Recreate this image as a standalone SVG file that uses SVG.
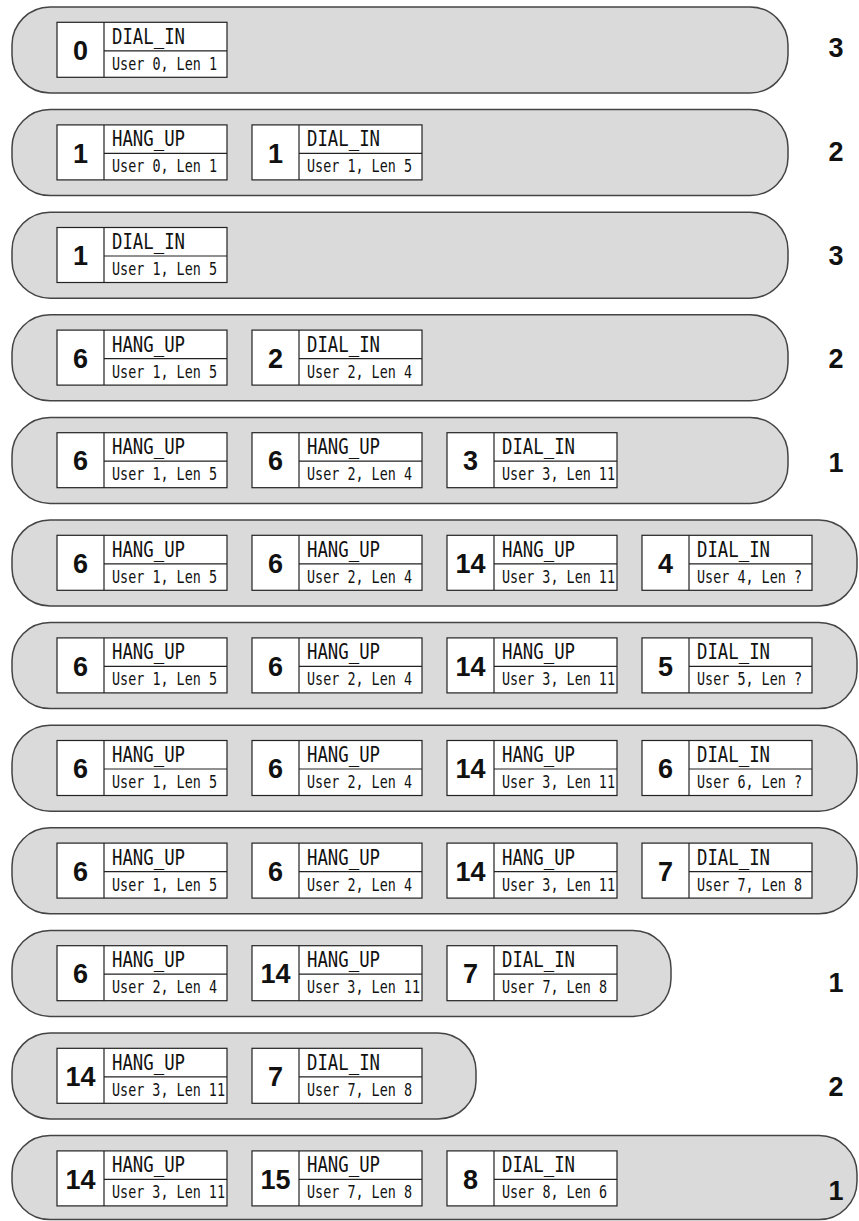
<svg xmlns="http://www.w3.org/2000/svg" width="859" height="1221" viewBox="0 0 859 1221">
<style>
.cap{fill:#dadada;stroke:#444;stroke-width:1.5}
.bx{fill:#fff;stroke:#222;stroke-width:1.2}
.ln{stroke:#222;stroke-width:1.2;fill:none}
.num{font-family:"Liberation Sans",Arial,sans-serif;font-weight:bold;font-size:27px;fill:#111;text-anchor:middle}
.typ{font-family:"DejaVu Sans Mono","Liberation Mono",monospace;font-size:21px;fill:#111}
.usr{font-family:"DejaVu Sans Mono","Liberation Mono",monospace;font-size:18px;fill:#111}
.cnt{font-family:"Liberation Sans",Arial,sans-serif;font-weight:bold;font-size:27px;fill:#111;text-anchor:middle}
</style>
<g id="connectors"/>
<!-- Row 0 -->
<g id="row0">
<rect class="cap" x="12" y="7" width="776" height="86" rx="38"/>
<g id="r0b0" transform="translate(57,22.3)"><rect class="bx" width="170" height="55"/><path class="ln" d="M47 0V55M47 28.5H170"/><text class="num" x="23.5" y="37.7">0</text><text class="typ" x="55" y="21.5" textLength="73" lengthAdjust="spacingAndGlyphs">DIAL_IN</text><text class="usr" x="55" y="47.5" textLength="105" lengthAdjust="spacingAndGlyphs">User 0, Len 1</text></g>
<text class="cnt" x="836" y="56.7">3</text>
</g>
<!-- Row 1 -->
<g id="row1">
<rect class="cap" x="12" y="109.6" width="776" height="86" rx="38"/>
<g id="r1b0" transform="translate(57,124.9)"><rect class="bx" width="170" height="55"/><path class="ln" d="M47 0V55M47 28.5H170"/><text class="num" x="23.5" y="37.7">1</text><text class="typ" x="55" y="21.5" textLength="73" lengthAdjust="spacingAndGlyphs">HANG_UP</text><text class="usr" x="55" y="47.5" textLength="105" lengthAdjust="spacingAndGlyphs">User 0, Len 1</text></g>
<g id="r1b1" transform="translate(252,124.9)"><rect class="bx" width="170" height="55"/><path class="ln" d="M47 0V55M47 28.5H170"/><text class="num" x="23.5" y="37.7">1</text><text class="typ" x="55" y="21.5" textLength="73" lengthAdjust="spacingAndGlyphs">DIAL_IN</text><text class="usr" x="55" y="47.5" textLength="105" lengthAdjust="spacingAndGlyphs">User 1, Len 5</text></g>
<text class="cnt" x="836" y="160.6">2</text>
</g>
<!-- Row 2 -->
<g id="row2">
<rect class="cap" x="12" y="212.2" width="776" height="86" rx="38"/>
<g id="r2b0" transform="translate(57,227.5)"><rect class="bx" width="170" height="55"/><path class="ln" d="M47 0V55M47 28.5H170"/><text class="num" x="23.5" y="37.7">1</text><text class="typ" x="55" y="21.5" textLength="73" lengthAdjust="spacingAndGlyphs">DIAL_IN</text><text class="usr" x="55" y="47.5" textLength="105" lengthAdjust="spacingAndGlyphs">User 1, Len 5</text></g>
<text class="cnt" x="836" y="264.5">3</text>
</g>
<!-- Row 3 -->
<g id="row3">
<rect class="cap" x="12" y="314.8" width="776" height="86" rx="38"/>
<g id="r3b0" transform="translate(57,330.1)"><rect class="bx" width="170" height="55"/><path class="ln" d="M47 0V55M47 28.5H170"/><text class="num" x="23.5" y="37.7">6</text><text class="typ" x="55" y="21.5" textLength="73" lengthAdjust="spacingAndGlyphs">HANG_UP</text><text class="usr" x="55" y="47.5" textLength="105" lengthAdjust="spacingAndGlyphs">User 1, Len 5</text></g>
<g id="r3b1" transform="translate(252,330.1)"><rect class="bx" width="170" height="55"/><path class="ln" d="M47 0V55M47 28.5H170"/><text class="num" x="23.5" y="37.7">2</text><text class="typ" x="55" y="21.5" textLength="73" lengthAdjust="spacingAndGlyphs">DIAL_IN</text><text class="usr" x="55" y="47.5" textLength="105" lengthAdjust="spacingAndGlyphs">User 2, Len 4</text></g>
<text class="cnt" x="836" y="368.4">2</text>
</g>
<!-- Row 4 -->
<g id="row4">
<rect class="cap" x="12" y="417.4" width="776" height="86" rx="38"/>
<g id="r4b0" transform="translate(57,432.7)"><rect class="bx" width="170" height="55"/><path class="ln" d="M47 0V55M47 28.5H170"/><text class="num" x="23.5" y="37.7">6</text><text class="typ" x="55" y="21.5" textLength="73" lengthAdjust="spacingAndGlyphs">HANG_UP</text><text class="usr" x="55" y="47.5" textLength="105" lengthAdjust="spacingAndGlyphs">User 1, Len 5</text></g>
<g id="r4b1" transform="translate(252,432.7)"><rect class="bx" width="170" height="55"/><path class="ln" d="M47 0V55M47 28.5H170"/><text class="num" x="23.5" y="37.7">6</text><text class="typ" x="55" y="21.5" textLength="73" lengthAdjust="spacingAndGlyphs">HANG_UP</text><text class="usr" x="55" y="47.5" textLength="105" lengthAdjust="spacingAndGlyphs">User 2, Len 4</text></g>
<g id="r4b2" transform="translate(447,432.7)"><rect class="bx" width="170" height="55"/><path class="ln" d="M47 0V55M47 28.5H170"/><text class="num" x="23.5" y="37.7">3</text><text class="typ" x="55" y="21.5" textLength="73" lengthAdjust="spacingAndGlyphs">DIAL_IN</text><text class="usr" x="55" y="47.5" textLength="113" lengthAdjust="spacingAndGlyphs">User 3, Len 11</text></g>
<text class="cnt" x="836" y="472.3">1</text>
</g>
<!-- Row 5 -->
<g id="row5">
<rect class="cap" x="12" y="520" width="845" height="86" rx="38"/>
<g id="r5b0" transform="translate(57,535.3)"><rect class="bx" width="170" height="55"/><path class="ln" d="M47 0V55M47 28.5H170"/><text class="num" x="23.5" y="37.7">6</text><text class="typ" x="55" y="21.5" textLength="73" lengthAdjust="spacingAndGlyphs">HANG_UP</text><text class="usr" x="55" y="47.5" textLength="105" lengthAdjust="spacingAndGlyphs">User 1, Len 5</text></g>
<g id="r5b1" transform="translate(252,535.3)"><rect class="bx" width="170" height="55"/><path class="ln" d="M47 0V55M47 28.5H170"/><text class="num" x="23.5" y="37.7">6</text><text class="typ" x="55" y="21.5" textLength="73" lengthAdjust="spacingAndGlyphs">HANG_UP</text><text class="usr" x="55" y="47.5" textLength="105" lengthAdjust="spacingAndGlyphs">User 2, Len 4</text></g>
<g id="r5b2" transform="translate(447,535.3)"><rect class="bx" width="170" height="55"/><path class="ln" d="M47 0V55M47 28.5H170"/><text class="num" x="23.5" y="37.7">14</text><text class="typ" x="55" y="21.5" textLength="73" lengthAdjust="spacingAndGlyphs">HANG_UP</text><text class="usr" x="55" y="47.5" textLength="113" lengthAdjust="spacingAndGlyphs">User 3, Len 11</text></g>
<g id="r5b3" transform="translate(642,535.3)"><rect class="bx" width="170" height="55"/><path class="ln" d="M47 0V55M47 28.5H170"/><text class="num" x="23.5" y="37.7">4</text><text class="typ" x="55" y="21.5" textLength="73" lengthAdjust="spacingAndGlyphs">DIAL_IN</text><text class="usr" x="55" y="47.5" textLength="105" lengthAdjust="spacingAndGlyphs">User 4, Len ?</text></g>
</g>
<!-- Row 6 -->
<g id="row6">
<rect class="cap" x="12" y="622.6" width="845" height="86" rx="38"/>
<g id="r6b0" transform="translate(57,637.9)"><rect class="bx" width="170" height="55"/><path class="ln" d="M47 0V55M47 28.5H170"/><text class="num" x="23.5" y="37.7">6</text><text class="typ" x="55" y="21.5" textLength="73" lengthAdjust="spacingAndGlyphs">HANG_UP</text><text class="usr" x="55" y="47.5" textLength="105" lengthAdjust="spacingAndGlyphs">User 1, Len 5</text></g>
<g id="r6b1" transform="translate(252,637.9)"><rect class="bx" width="170" height="55"/><path class="ln" d="M47 0V55M47 28.5H170"/><text class="num" x="23.5" y="37.7">6</text><text class="typ" x="55" y="21.5" textLength="73" lengthAdjust="spacingAndGlyphs">HANG_UP</text><text class="usr" x="55" y="47.5" textLength="105" lengthAdjust="spacingAndGlyphs">User 2, Len 4</text></g>
<g id="r6b2" transform="translate(447,637.9)"><rect class="bx" width="170" height="55"/><path class="ln" d="M47 0V55M47 28.5H170"/><text class="num" x="23.5" y="37.7">14</text><text class="typ" x="55" y="21.5" textLength="73" lengthAdjust="spacingAndGlyphs">HANG_UP</text><text class="usr" x="55" y="47.5" textLength="113" lengthAdjust="spacingAndGlyphs">User 3, Len 11</text></g>
<g id="r6b3" transform="translate(642,637.9)"><rect class="bx" width="170" height="55"/><path class="ln" d="M47 0V55M47 28.5H170"/><text class="num" x="23.5" y="37.7">5</text><text class="typ" x="55" y="21.5" textLength="73" lengthAdjust="spacingAndGlyphs">DIAL_IN</text><text class="usr" x="55" y="47.5" textLength="105" lengthAdjust="spacingAndGlyphs">User 5, Len ?</text></g>
</g>
<!-- Row 7 -->
<g id="row7">
<rect class="cap" x="12" y="725.2" width="845" height="86" rx="38"/>
<g id="r7b0" transform="translate(57,740.5)"><rect class="bx" width="170" height="55"/><path class="ln" d="M47 0V55M47 28.5H170"/><text class="num" x="23.5" y="37.7">6</text><text class="typ" x="55" y="21.5" textLength="73" lengthAdjust="spacingAndGlyphs">HANG_UP</text><text class="usr" x="55" y="47.5" textLength="105" lengthAdjust="spacingAndGlyphs">User 1, Len 5</text></g>
<g id="r7b1" transform="translate(252,740.5)"><rect class="bx" width="170" height="55"/><path class="ln" d="M47 0V55M47 28.5H170"/><text class="num" x="23.5" y="37.7">6</text><text class="typ" x="55" y="21.5" textLength="73" lengthAdjust="spacingAndGlyphs">HANG_UP</text><text class="usr" x="55" y="47.5" textLength="105" lengthAdjust="spacingAndGlyphs">User 2, Len 4</text></g>
<g id="r7b2" transform="translate(447,740.5)"><rect class="bx" width="170" height="55"/><path class="ln" d="M47 0V55M47 28.5H170"/><text class="num" x="23.5" y="37.7">14</text><text class="typ" x="55" y="21.5" textLength="73" lengthAdjust="spacingAndGlyphs">HANG_UP</text><text class="usr" x="55" y="47.5" textLength="113" lengthAdjust="spacingAndGlyphs">User 3, Len 11</text></g>
<g id="r7b3" transform="translate(642,740.5)"><rect class="bx" width="170" height="55"/><path class="ln" d="M47 0V55M47 28.5H170"/><text class="num" x="23.5" y="37.7">6</text><text class="typ" x="55" y="21.5" textLength="73" lengthAdjust="spacingAndGlyphs">DIAL_IN</text><text class="usr" x="55" y="47.5" textLength="105" lengthAdjust="spacingAndGlyphs">User 6, Len ?</text></g>
</g>
<!-- Row 8 -->
<g id="row8">
<rect class="cap" x="12" y="827.8" width="845" height="86" rx="38"/>
<g id="r8b0" transform="translate(57,843.1)"><rect class="bx" width="170" height="55"/><path class="ln" d="M47 0V55M47 28.5H170"/><text class="num" x="23.5" y="37.7">6</text><text class="typ" x="55" y="21.5" textLength="73" lengthAdjust="spacingAndGlyphs">HANG_UP</text><text class="usr" x="55" y="47.5" textLength="105" lengthAdjust="spacingAndGlyphs">User 1, Len 5</text></g>
<g id="r8b1" transform="translate(252,843.1)"><rect class="bx" width="170" height="55"/><path class="ln" d="M47 0V55M47 28.5H170"/><text class="num" x="23.5" y="37.7">6</text><text class="typ" x="55" y="21.5" textLength="73" lengthAdjust="spacingAndGlyphs">HANG_UP</text><text class="usr" x="55" y="47.5" textLength="105" lengthAdjust="spacingAndGlyphs">User 2, Len 4</text></g>
<g id="r8b2" transform="translate(447,843.1)"><rect class="bx" width="170" height="55"/><path class="ln" d="M47 0V55M47 28.5H170"/><text class="num" x="23.5" y="37.7">14</text><text class="typ" x="55" y="21.5" textLength="73" lengthAdjust="spacingAndGlyphs">HANG_UP</text><text class="usr" x="55" y="47.5" textLength="113" lengthAdjust="spacingAndGlyphs">User 3, Len 11</text></g>
<g id="r8b3" transform="translate(642,843.1)"><rect class="bx" width="170" height="55"/><path class="ln" d="M47 0V55M47 28.5H170"/><text class="num" x="23.5" y="37.7">7</text><text class="typ" x="55" y="21.5" textLength="73" lengthAdjust="spacingAndGlyphs">DIAL_IN</text><text class="usr" x="55" y="47.5" textLength="105" lengthAdjust="spacingAndGlyphs">User 7, Len 8</text></g>
</g>
<!-- Row 9 -->
<g id="row9">
<rect class="cap" x="12" y="930.4" width="659" height="86" rx="38"/>
<g id="r9b0" transform="translate(57,945.7)"><rect class="bx" width="170" height="55"/><path class="ln" d="M47 0V55M47 28.5H170"/><text class="num" x="23.5" y="37.7">6</text><text class="typ" x="55" y="21.5" textLength="73" lengthAdjust="spacingAndGlyphs">HANG_UP</text><text class="usr" x="55" y="47.5" textLength="105" lengthAdjust="spacingAndGlyphs">User 2, Len 4</text></g>
<g id="r9b1" transform="translate(252,945.7)"><rect class="bx" width="170" height="55"/><path class="ln" d="M47 0V55M47 28.5H170"/><text class="num" x="23.5" y="37.7">14</text><text class="typ" x="55" y="21.5" textLength="73" lengthAdjust="spacingAndGlyphs">HANG_UP</text><text class="usr" x="55" y="47.5" textLength="113" lengthAdjust="spacingAndGlyphs">User 3, Len 11</text></g>
<g id="r9b2" transform="translate(447,945.7)"><rect class="bx" width="170" height="55"/><path class="ln" d="M47 0V55M47 28.5H170"/><text class="num" x="23.5" y="37.7">7</text><text class="typ" x="55" y="21.5" textLength="73" lengthAdjust="spacingAndGlyphs">DIAL_IN</text><text class="usr" x="55" y="47.5" textLength="105" lengthAdjust="spacingAndGlyphs">User 7, Len 8</text></g>
<text class="cnt" x="836" y="991.8">1</text>
</g>
<!-- Row 10 -->
<g id="row10">
<rect class="cap" x="12" y="1033" width="464" height="86" rx="38"/>
<g id="r10b0" transform="translate(57,1048.3)"><rect class="bx" width="170" height="55"/><path class="ln" d="M47 0V55M47 28.5H170"/><text class="num" x="23.5" y="37.7">14</text><text class="typ" x="55" y="21.5" textLength="73" lengthAdjust="spacingAndGlyphs">HANG_UP</text><text class="usr" x="55" y="47.5" textLength="113" lengthAdjust="spacingAndGlyphs">User 3, Len 11</text></g>
<g id="r10b1" transform="translate(252,1048.3)"><rect class="bx" width="170" height="55"/><path class="ln" d="M47 0V55M47 28.5H170"/><text class="num" x="23.5" y="37.7">7</text><text class="typ" x="55" y="21.5" textLength="73" lengthAdjust="spacingAndGlyphs">DIAL_IN</text><text class="usr" x="55" y="47.5" textLength="105" lengthAdjust="spacingAndGlyphs">User 7, Len 8</text></g>
<text class="cnt" x="836" y="1095.7">2</text>
</g>
<!-- Row 11 -->
<g id="row11">
<rect class="cap" x="12" y="1135.6" width="845" height="84" rx="38"/>
<g id="r11b0" transform="translate(57,1150.9)"><rect class="bx" width="170" height="55"/><path class="ln" d="M47 0V55M47 28.5H170"/><text class="num" x="23.5" y="37.7">14</text><text class="typ" x="55" y="21.5" textLength="73" lengthAdjust="spacingAndGlyphs">HANG_UP</text><text class="usr" x="55" y="47.5" textLength="113" lengthAdjust="spacingAndGlyphs">User 3, Len 11</text></g>
<g id="r11b1" transform="translate(252,1150.9)"><rect class="bx" width="170" height="55"/><path class="ln" d="M47 0V55M47 28.5H170"/><text class="num" x="23.5" y="37.7">15</text><text class="typ" x="55" y="21.5" textLength="73" lengthAdjust="spacingAndGlyphs">HANG_UP</text><text class="usr" x="55" y="47.5" textLength="105" lengthAdjust="spacingAndGlyphs">User 7, Len 8</text></g>
<g id="r11b2" transform="translate(447,1150.9)"><rect class="bx" width="170" height="55"/><path class="ln" d="M47 0V55M47 28.5H170"/><text class="num" x="23.5" y="37.7">8</text><text class="typ" x="55" y="21.5" textLength="73" lengthAdjust="spacingAndGlyphs">DIAL_IN</text><text class="usr" x="55" y="47.5" textLength="105" lengthAdjust="spacingAndGlyphs">User 8, Len 6</text></g>
<text class="cnt" x="836" y="1199.6">1</text>
</g>
</svg>
